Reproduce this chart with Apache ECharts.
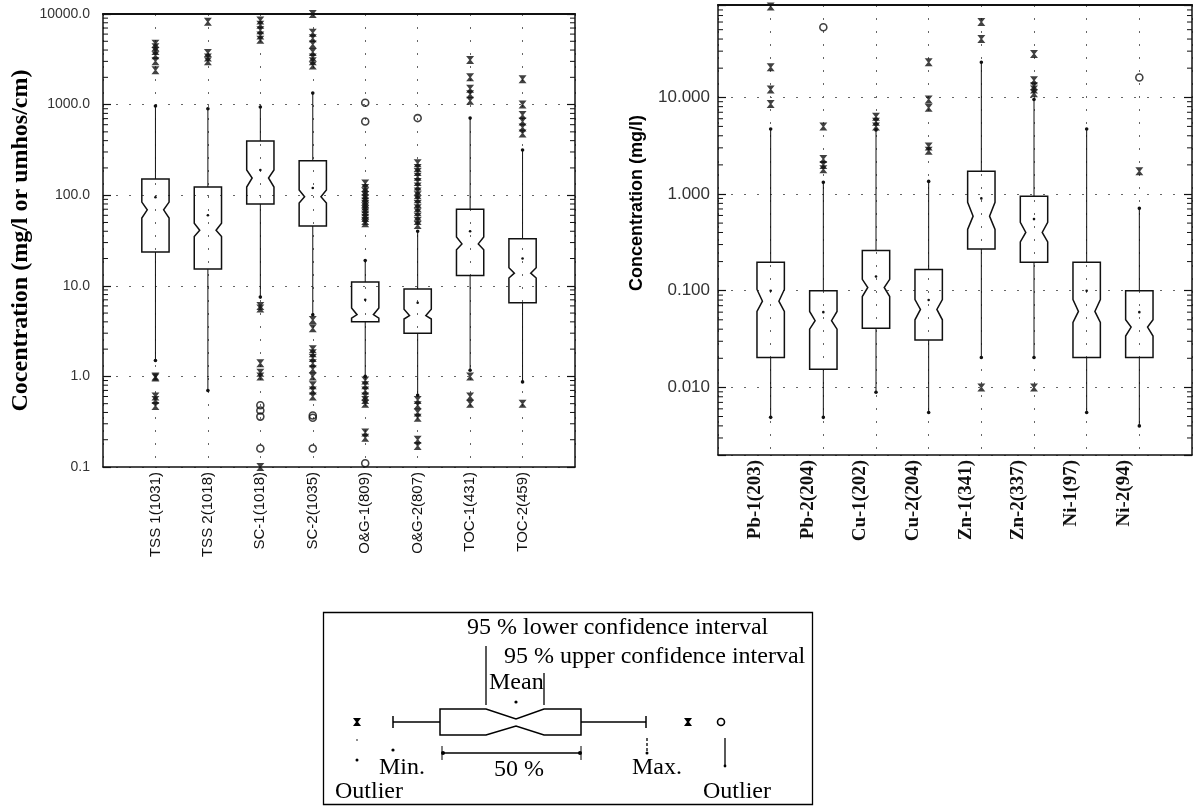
<!DOCTYPE html>
<html><head><meta charset="utf-8">
<script src="https://cdn.jsdelivr.net/npm/echarts@6/dist/echarts.min.js"></script>
<style>html,body{margin:0;padding:0;background:#fff}#c{width:1198px;height:807px}</style>
</head><body><div id="c"></div>
<script>
// ---------- LEFT PANEL DATA ----------
const leftCategories = ['TSS 1(1031)','TSS 2(1018)','SC-1(1018)','SC-2(1035)','O&G-1(809)','O&G-2(807)','TOC-1(431)','TOC-2(459)'];
const leftMin     = [1.5, 0.7, 7.5, 4.8, 1.0, 0.62, 1.17, 0.87];
const leftQ1      = [23.6, 15.3, 80, 45.7, 4.0, 3.0, 13, 6.5];
const leftCiLow   = [56, 35, 123, 82, 4.4, 4.3, 25, 12.2];
const leftMedian  = [69, 41, 155, 96, 4.8, 4.7, 29, 13.8];
const leftCiHigh  = [84, 49, 190, 114, 5.7, 5.5, 34.5, 15.8];
const leftQ3      = [151, 123, 396, 240, 11, 9.2, 70, 33];
const leftMax     = [966, 900, 940, 1340, 19, 40, 710, 316];
const leftMean    = [95, 60, 190, 120, 7, 6.5, 40, 20];
const leftStarOutliers = [
  [4700, 4300, 3900, 3500, 3000, 2400, 1.0, 0.97, 0.6, 0.55, 0.47],
  [8200, 3700, 3300, 3000],
  [8500, 7600, 6600, 5800, 5200, 6.0, 5.6, 1.4, 1.1, 1.0, 0.1],
  [10000, 6200, 5400, 4600, 3800, 3300, 3000, 2700, 4.2, 3.4, 2.0, 1.8, 1.6, 1.4, 1.2, 1.0, 0.8, 0.7, 0.6],
  [135, 120, 110, 100, 92, 85, 80, 75, 70, 65, 60, 56, 52, 49, 0.9, 0.8, 0.7, 0.6, 0.55, 0.5, 0.24, 0.21],
  [225, 200, 180, 160, 140, 125, 110, 100, 90, 80, 72, 65, 58, 52, 47, 0.55, 0.48, 0.4, 0.35, 0.2, 0.17],
  [3100, 2000, 1500, 1300, 1100, 1.0, 0.6, 0.5],
  [1900, 1000, 770, 650, 560, 480, 0.5]
];
const leftCircleOutliers = [
  [], [], [0.48, 0.42, 0.36, 0.16], [0.37, 0.35, 0.16], [1050, 650, 0.11], [710], [], []
];
const leftTickValues = [0.1, 1, 10, 100, 1000, 10000];
const leftTickLabels = ['0.1', '1.0', '10.0', '100.0', '1000.0', '10000.0'];

// ---------- RIGHT PANEL DATA ----------
const rightCategories = ['Pb-1(203)','Pb-2(204)','Cu-1(202)','Cu-2(204)','Zn-1(341)','Zn-2(337)','Ni-1(97)','Ni-2(94)'];
const rightMin    = [0.0049, 0.0049, 0.0089, 0.0055, 0.0204, 0.0204, 0.0055, 0.0040];
const rightQ1     = [0.0204, 0.0154, 0.041, 0.031, 0.27, 0.197, 0.0204, 0.0204];
const rightCiLow  = [0.061, 0.040, 0.087, 0.050, 0.43, 0.32, 0.047, 0.034];
const rightMedian = [0.078, 0.049, 0.108, 0.064, 0.59, 0.40, 0.061, 0.042];
const rightCiHigh = [0.103, 0.061, 0.131, 0.081, 0.82, 0.51, 0.081, 0.050];
const rightQ3     = [0.197, 0.100, 0.26, 0.166, 1.72, 0.95, 0.197, 0.100];
const rightMax    = [4.7, 1.32, 4.6, 1.35, 23, 9.5, 4.7, 0.71];
const rightMean   = [0.10, 0.06, 0.14, 0.08, 0.9, 0.55, 0.10, 0.06];
const rightStarOutliers = [
  [87, 20.5, 12, 8.5],
  [5.0, 2.3, 2.0, 1.8],
  [6.3, 5.6, 5.0],
  [23, 9.5, 7.8, 3.1, 2.8],
  [60, 40, 0.01],
  [28, 15, 13, 12, 11, 0.01],
  [],
  [1.72]
];
const rightCircleOutliers = [[], [53], [], [], [], [], [], [16]];
const rightTickValues = [0.01, 0.1, 1, 10];
const rightTickLabels = ['0.010', '0.100', '1.000', '10.000'];

// ---------- helpers ----------
function boxData(mn, q1, cl, md, ch, q3, mx, mean) {
  return mn.map((_, i) => [i + 1, mn[i], q1[i], cl[i], md[i], ch[i], q3[i], mx[i], mean[i]]);
}
function pointData(lists) {
  const out = [];
  lists.forEach((arr, i) => arr.forEach(v => out.push([i + 1, v])));
  return out;
}
function minorTicks(lo, hi) {
  const out = [];
  for (let e = -4; e <= 4; e++) {
    for (let m = 2; m <= 9; m++) {
      const v = m * Math.pow(10, e);
      if (v > lo * 1.0001 && v < hi * 0.9999) out.push([v]);
    }
  }
  return out;
}
function tickFormatter(values, labels) {
  return v => {
    const i = values.findIndex(t => Math.abs(t - v) / t < 1e-6);
    return i >= 0 ? labels[i] : '';
  };
}

const black = '#111';
function renderBox(params, api) {
  const x = api.value(0);
  const c = i => api.coord([x, api.value(i)]);
  const pMin = c(1), pQ1 = c(2), pCl = c(3), pMd = c(4), pCh = c(5), pQ3 = c(6), pMax = c(7), pMean = c(8);
  const cx = pMd[0];
  const bw = api.size([1, 1], [x, 1])[0];
  const hw = bw * 0.26, nw = hw * 0.6;
  const poly = [
    [cx - hw, pQ3[1]], [cx + hw, pQ3[1]], [cx + hw, pCh[1]], [cx + nw, pMd[1]], [cx + hw, pCl[1]],
    [cx + hw, pQ1[1]], [cx - hw, pQ1[1]], [cx - hw, pCl[1]], [cx - nw, pMd[1]], [cx - hw, pCh[1]]
  ];
  const line = (y1, y2) => ({ type: 'line', shape: { x1: cx, y1: y1, x2: cx, y2: y2 }, style: { stroke: black, lineWidth: 1 } });
  const dot = (y, r) => ({ type: 'circle', shape: { cx: cx, cy: y, r: r }, style: { fill: black } });
  return {
    type: 'group',
    children: [
      line(pQ3[1], pMax[1]), line(pQ1[1], pMin[1]),
      { type: 'polygon', shape: { points: poly }, style: { fill: 'none', stroke: black, lineWidth: 1.5 } },
      dot(pMax[1], 1.8), dot(pMin[1], 1.8), dot(pMean[1], 1.3)
    ]
  };
}
function renderMinor(xMax) {
  return function (params, api) {
    const v = api.value(0);
    const l = api.coord([0, v]), r = api.coord([xMax, v]);
    return {
      type: 'group',
      children: [
        { type: 'line', shape: { x1: l[0], y1: l[1], x2: l[0] + 5, y2: l[1] }, style: { stroke: black, lineWidth: 1 } },
        { type: 'line', shape: { x1: r[0], y1: r[1], x2: r[0] - 5, y2: r[1] }, style: { stroke: black, lineWidth: 1 } }
      ]
    };
  };
}

const hourglass = 'path://M0,0L10,0L6,5L10,10L0,10L4,5Z';
const dotted = { show: true, lineStyle: { color: '#666', width: 1, type: [2, 11] } };

function xAxes(gi, cats, labelStyle) {
  return [
    { gridIndex: gi, type: 'value', min: 0, max: 9, interval: 1, position: 'bottom',
      axisLine: { onZero: false, lineStyle: { color: black, width: 1.5 } }, axisTick: { show: false },
      axisLabel: Object.assign({ formatter: v => cats[v - 1] || '', rotate: 90, color: black }, labelStyle),
      splitLine: dotted },
    { gridIndex: gi, type: 'value', min: 0, max: 9, interval: 1, position: 'top',
      axisLine: { onZero: false, lineStyle: { color: black, width: 2.2 } }, axisTick: { show: false },
      axisLabel: { show: false }, splitLine: { show: false } }
  ];
}
function yAxes(gi, mn, mx, values, labels, labelStyle, name, nameStyle, nameGap) {
  return [
    { gridIndex: gi, type: 'log', logBase: 10, min: mn, max: mx, position: 'left',
      axisLine: { show: true, onZero: false, lineStyle: { color: black, width: 1.5 } },
      axisTick: { show: true, inside: true, length: 8, lineStyle: { color: black, width: 1.2 } },
      axisLabel: Object.assign({ formatter: tickFormatter(values, labels), color: '#333' }, labelStyle),
      splitLine: dotted,
      name: name, nameLocation: 'middle', nameGap: nameGap, nameTextStyle: nameStyle },
    { gridIndex: gi, type: 'log', logBase: 10, min: mn, max: mx, position: 'right',
      axisLine: { show: true, onZero: false, lineStyle: { color: black, width: 1.5 } },
      axisTick: { show: true, inside: true, length: 8, lineStyle: { color: black, width: 1.2 } },
      axisLabel: { show: false }, splitLine: { show: false } }
  ];
}

function panelSeries(xi, yi, boxes, stars, circles, minors, xMax) {
  return [
    { type: 'custom', xAxisIndex: xi, yAxisIndex: yi, renderItem: renderMinor(xMax), data: minors, clip: false, silent: true, z: 3 },
    { type: 'custom', xAxisIndex: xi, yAxisIndex: yi, renderItem: renderBox, data: boxes, clip: false, z: 4,
      encode: { x: 0, y: [1, 2, 3, 4, 5, 6, 7, 8] } },
    { type: 'scatter', xAxisIndex: xi, yAxisIndex: yi, data: stars, symbol: hourglass, symbolSize: [8, 8],
      itemStyle: { color: black }, clip: false, z: 5 },
    { type: 'scatter', xAxisIndex: xi, yAxisIndex: yi, data: circles, symbol: 'circle', symbolSize: 7,
      itemStyle: { color: 'rgba(0,0,0,0)', borderColor: black, borderWidth: 1.6 }, clip: false, z: 5 }
  ];
}

// ---------- legend schematic ----------
const serif = '"Liberation Serif", "Times New Roman", serif';
function gText(text, x, y, align) {
  return { type: 'text', x: x, y: y, style: { text: text, font: '24px ' + serif, fill: '#000', align: align || 'left', verticalAlign: 'middle' }, z: 10 };
}
function gLine(x1, y1, x2, y2, w, dash) {
  return { type: 'line', shape: { x1, y1, x2, y2 }, style: { stroke: '#000', lineWidth: w || 1.3, lineDash: dash || null }, z: 10 };
}
function gDot(cx, cy, r) { return { type: 'circle', shape: { cx, cy, r }, style: { fill: '#000' }, z: 10 }; }
function gHour(cx, cy) {
  return { type: 'polygon', shape: { points: [[cx - 4, cy - 4], [cx + 4, cy - 4], [cx + 1, cy], [cx + 4, cy + 4], [cx - 4, cy + 4], [cx - 1, cy]] }, style: { fill: '#000' }, z: 10 };
}
const legendGraphic = [
  { type: 'rect', shape: { x: 323.5, y: 612.5, width: 489, height: 192 }, style: { fill: '#fff', stroke: '#000', lineWidth: 1.3 }, z: 9 },
  gText('95 % lower confidence interval', 467, 628),
  gText('95 % upper confidence interval', 504, 657),
  gText('Mean', 489, 683),
  gLine(486, 646, 486, 705), gLine(544, 673, 544, 705),
  gDot(516, 702, 1.6),
  { type: 'polygon', shape: { points: [[440, 709], [486, 709], [516, 719], [544, 709], [581, 709], [581, 735], [544, 735], [516, 726], [486, 735], [440, 735]] },
    style: { fill: '#fff', stroke: '#000', lineWidth: 1.5 }, z: 10 },
  gLine(393, 722, 440, 722, 1.5), gLine(393, 716, 393, 728, 1.5),
  gLine(581, 722, 646, 722, 1.5), gLine(646, 716, 646, 728, 1.5),
  gHour(357, 722), gHour(688, 722),
  { type: 'circle', shape: { cx: 721, cy: 722, r: 3.5 }, style: { fill: 'none', stroke: '#000', lineWidth: 1.6 }, z: 10 },
  gLine(725, 738, 725, 765), gDot(725, 766, 1.4),
  gLine(647, 738, 647, 752, 1.3, [3, 2]), gDot(647, 753, 1.5),
  gDot(393, 750, 1.6), gDot(357, 760, 1.5), gDot(357, 740, 0.8),
  gLine(443, 753, 580, 753, 1.3), gDot(443, 753, 2), gDot(580, 753, 2),
  gLine(442, 746, 442, 760, 1), gLine(581, 746, 581, 760, 1),
  gText('Min.', 379, 768), gText('50 %', 519, 770, 'center'), gText('Max.', 632, 768),
  gText('Outlier', 335, 792), gText('Outlier', 703, 792)
];

const option = {
  backgroundColor: '#fff',
  animation: false,
  grid: [
    { left: 103, top: 14, width: 472, height: 453 },
    { left: 718, top: 5, width: 474, height: 450 }
  ],
  xAxis: [].concat(
    xAxes(0, leftCategories, { fontSize: 15, fontFamily: '"Liberation Sans", Arial, sans-serif', margin: 5 }),
    xAxes(1, rightCategories, { fontSize: 19, fontWeight: 'bold', fontFamily: serif, margin: 5, verticalAlign: 'bottom', padding: [0, 0, 6, 0] })
  ),
  yAxis: [].concat(
    yAxes(0, 0.1, 10000, leftTickValues, leftTickLabels,
      { fontSize: 14, fontFamily: '"Liberation Sans", Arial, sans-serif', margin: 13 },
      'Cocentration (mg/l or umhos/cm)',
      { fontSize: 24, fontWeight: 'bold', fontFamily: serif, color: '#000' }, 70),
    yAxes(1, 0.002, 90, rightTickValues, rightTickLabels,
      { fontSize: 17, fontFamily: '"Liberation Sans", Arial, sans-serif', margin: 8 },
      'Concentration (mg/l)',
      { fontSize: 18, fontWeight: 'bold', fontFamily: '"Liberation Sans", Arial, sans-serif', color: '#000', padding: [0, 0, 0, 54] }, 72)
  ),
  series: [].concat(
    panelSeries(0, 0,
      boxData(leftMin, leftQ1, leftCiLow, leftMedian, leftCiHigh, leftQ3, leftMax, leftMean),
      pointData(leftStarOutliers), pointData(leftCircleOutliers), minorTicks(0.1, 10000), 9),
    panelSeries(2, 2,
      boxData(rightMin, rightQ1, rightCiLow, rightMedian, rightCiHigh, rightQ3, rightMax, rightMean),
      pointData(rightStarOutliers), pointData(rightCircleOutliers), minorTicks(0.002, 90), 9)
  ),
  graphic: legendGraphic
};
const chart = echarts.init(document.getElementById('c'));
chart.setOption(option);
</script></body></html>
